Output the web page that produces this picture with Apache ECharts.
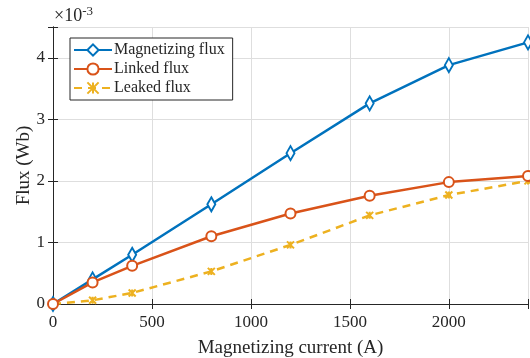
<!DOCTYPE html>
<html>
<head>
<meta charset="utf-8">
<script src="https://cdn.jsdelivr.net/npm/echarts@6/dist/echarts.min.js"></script>
<style>
  html, body { margin: 0; padding: 0; background: #fff; }
  #chart { width: 530px; height: 358px; }
</style>
</head>
<body>
<div id="chart"></div>
<script>
// magnetizing current (A)
const current = [0, 200, 400, 800, 1200, 1600, 2000, 2400]
// flux (Wb)
const magnetizingFlux = [0, 0.40e-3, 0.80e-3, 1.62e-3, 2.45e-3, 3.26e-3, 3.88e-3, 4.25e-3]
const linkedFlux = [0, 0.35e-3, 0.62e-3, 1.10e-3, 1.47e-3, 1.76e-3, 1.98e-3, 2.08e-3]
const leakedFlux = [0, 0.06e-3, 0.18e-3, 0.53e-3, 0.96e-3, 1.44e-3, 1.77e-3, 2.00e-3]

const serif = 'Liberation Serif'
const axisColor = '#262626'

const pairs = arr => current.map((c, i) => [c, arr[i]])

const chart = echarts.init(document.getElementById('chart'))

const tickStyle = { inside: true, length: 5, lineStyle: { color: axisColor } }

chart.setOption({
  animation: false,
  backgroundColor: '#fff',
  grid: { left: 53, right: 2, top: 27, bottom: 54, outerBoundsMode: 'none', containLabel: false },
  graphic: [{
    type: 'text',
    left: 54,
    top: 5,
    style: {
      text: '{a|×10}{b|-3}',
      rich: {
        a: { fontFamily: serif, fontSize: 18, fill: axisColor },
        b: { fontFamily: serif, fontSize: 13, fill: axisColor, verticalAlign: 'top', padding: [0, 0, 10, 0] }
      }
    }
  }],
  legend: {
    left: 70,
    top: 38,
    orient: 'vertical',
    itemGap: 3,
    itemWidth: 38,
    itemHeight: 14,
    padding: [4, 8, 4, 3],
    borderColor: axisColor,
    borderWidth: 1,
    backgroundColor: '#fff',
    textStyle: { fontFamily: serif, fontSize: 16, color: axisColor, padding: [0, 0, 0, -3] },
    data: ['Magnetizing flux', 'Linked flux', 'Leaked flux']
  },
  xAxis: [{
    type: 'value',
    min: 0, max: 2400, interval: 500,
    name: 'Magnetizing current (A)',
    nameLocation: 'middle',
    nameGap: 35,
    nameMoveOverlap: false,
    nameTextStyle: { fontFamily: serif, fontSize: 19, color: axisColor },
    axisLine: { lineStyle: { color: axisColor } },
    axisTick: tickStyle,
    axisLabel: {
      fontFamily: serif, fontSize: 17, color: axisColor, margin: 10,
      formatter: v => (v % 500 === 0 ? String(v) : '')
    },
    splitLine: { show: true, lineStyle: { color: '#dedede' } }
  }, {
    type: 'value',
    position: 'top',
    min: 0, max: 2400, interval: 500,
    axisLine: { show: true, lineStyle: { color: axisColor } },
    axisTick: tickStyle,
    axisLabel: { show: false },
    splitLine: { show: false }
  }],
  yAxis: [{
    type: 'value',
    min: 0, max: 4.5e-3, interval: 1e-3,
    name: 'Flux (Wb)',
    nameLocation: 'middle',
    nameGap: 19,
    nameMoveOverlap: false,
    nameTextStyle: { fontFamily: serif, fontSize: 19, color: axisColor },
    axisLine: { show: true, lineStyle: { color: axisColor } },
    axisTick: tickStyle,
    axisLabel: {
      fontFamily: serif, fontSize: 17, color: axisColor, margin: 8,
      formatter: v => {
        const k = v * 1000
        return Math.abs(k - Math.round(k)) < 1e-6 ? String(Math.round(k)) : ''
      }
    },
    splitLine: { show: true, lineStyle: { color: '#dedede' } }
  }, {
    type: 'value',
    position: 'right',
    min: 0, max: 4.5e-3, interval: 1e-3,
    axisLine: { show: true, lineStyle: { color: axisColor } },
    axisTick: tickStyle,
    axisLabel: { show: false },
    splitLine: { show: false }
  }],
  series: [{
    name: 'Magnetizing flux',
    type: 'line',
    data: pairs(magnetizingFlux),
    symbol: 'emptyDiamond',
    symbolSize: [8, 14],
    color: '#0072BD',
    lineStyle: { width: 2.5 },
    itemStyle: { borderWidth: 2 },
    z: 3
  }, {
    name: 'Linked flux',
    type: 'line',
    data: pairs(linkedFlux),
    symbol: 'emptyCircle',
    symbolSize: 10,
    color: '#D95319',
    lineStyle: { width: 2.5 },
    itemStyle: { borderWidth: 2.5 },
    z: 4
  }, {
    name: 'Leaked flux',
    type: 'line',
    data: pairs(leakedFlux),
    symbol: 'path://M0,0L10,10M10,0L0,10M5,0L5,10',
    symbolSize: 7,
    color: '#EDB120',
    lineStyle: { width: 2.5, type: [8, 6] },
    itemStyle: { borderColor: '#EDB120', borderWidth: 2 },
    z: 2
  }]
})
</script>
</body>
</html>
